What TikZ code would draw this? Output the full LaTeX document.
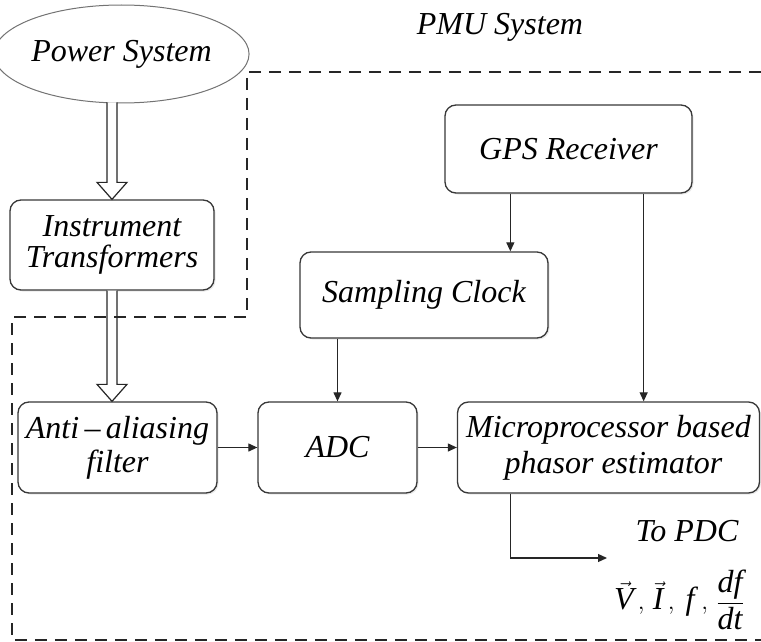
\documentclass[tikz,border=0pt]{standalone}
\usepackage{amsmath}
\usepackage{fontspec}
\setmainfont{Liberation Serif}[ItalicFont=Liberation Serif Italic]
\usetikzlibrary{arrows.meta,calc,shapes.geometric,shadows}

\begin{document}
\begin{tikzpicture}[x=1pt,y=-1pt,
  lbl/.style={font=\fontsize{32}{31}\selectfont\itshape},
  blk/.style={draw=black!78, line width=1.3pt, rounded corners=11pt, fill=white,
    align=center, inner sep=0pt, lbl,
    drop shadow={opacity=0.18, shadow xshift=1.5pt, shadow yshift=-1.5pt}},
  sig/.style={draw=black!85, line width=1.2pt, -{Triangle[length=9pt,width=8pt]}},
  hollow/.style={draw=black!85, line width=1.2pt, fill=white, line join=miter},
  boundary/.style={draw=black!85, line width=1.6pt, dash pattern=on 12pt off 8pt}
]
\useasboundingbox (0,0) rectangle (761,642);

% source and input chain
\node[ellipse, draw=black!55, line width=1pt, fill=white, minimum width=224pt,
      minimum height=98pt, inner sep=0pt, lbl] (ps) at (121.5,54) {Power System};
\node[blk, minimum width=204pt, minimum height=90pt] (it) at (112,245)
  {Instrument\\Transformers};
\node[blk, minimum width=199pt, minimum height=91pt] (aa) at (117.5,447.5)
  {Anti\,–\,aliasing\\[3pt]filter};
\node[blk, minimum width=302pt, minimum height=91pt] (mp) at (608.5,447.5)
  {Microprocessor based\\[5pt]\hspace*{10pt}phasor estimator};
\node[blk, minimum width=159pt, minimum height=91pt] (adc) at (337.5,447.5) {ADC};

% timing chain
\node[blk, minimum width=247pt, minimum height=88pt] (gps) at (568.5,149) {GPS Receiver};
\node[blk, minimum width=248pt, minimum height=86pt] (sc) at (424,295) {Sampling Clock};

% labels
\node[lbl] (pmu) at (500,27) {PMU System};
\node[lbl, inner sep=0pt] (topdc) at (687,531) {To PDC};
\node[lbl, inner sep=0pt] (vals) at (679,600)
  {$\vec{\textit{V}}\,,\,\vec{\textit{I}}\,,\;\textit{f}\;,\,\dfrac{\textit{df}}{\textit{dt}}$};

% tap points on the GPS receiver and the output end
\coordinate (g1) at ($(gps.south west)+(66,0)$);
\coordinate (g2) at ($(gps.south east)+(-49,0)$);
\coordinate (m1) at ($(mp.south west)+(54,0)$);
\coordinate (pdc) at (607,558);

% hollow power-flow arrows
\draw[hollow] ($(it.north |- ps.south)+(-5,-1)$) -- ($(it.north)+(-5,-17)$)
  -- ($(it.north)+(-15,-17)$) -- (it.north) -- ($(it.north)+(15,-17)$)
  -- ($(it.north)+(5,-17)$) -- ($(it.north |- ps.south)+(5,-1)$);
\draw[hollow] ($(it.south)+(-5,0)$) -- ($(it.south |- aa.north)+(-5,-17)$)
  -- ($(it.south |- aa.north)+(-15,-17)$) -- (it.south |- aa.north)
  -- ($(it.south |- aa.north)+(15,-17)$) -- ($(it.south |- aa.north)+(5,-17)$)
  -- ($(it.south)+(5,0)$);

% signal arrows
\draw[sig] (g1) -- (g1 |- sc.north);
\draw[sig] (g2) -- (g2 |- mp.north);
\draw[sig] (adc.north |- sc.south) -- (adc.north);
\draw[sig] (aa.east) -- (adc.west);
\draw[sig] (adc.east) -- (mp.west);
\draw[sig] (m1) |- (pdc);

% PMU boundary
\draw[boundary] (761,72) -- (247,72) -- (247,317) -- (12,317) -- (12,640) -- (761,640);
\end{tikzpicture}
\end{document}
